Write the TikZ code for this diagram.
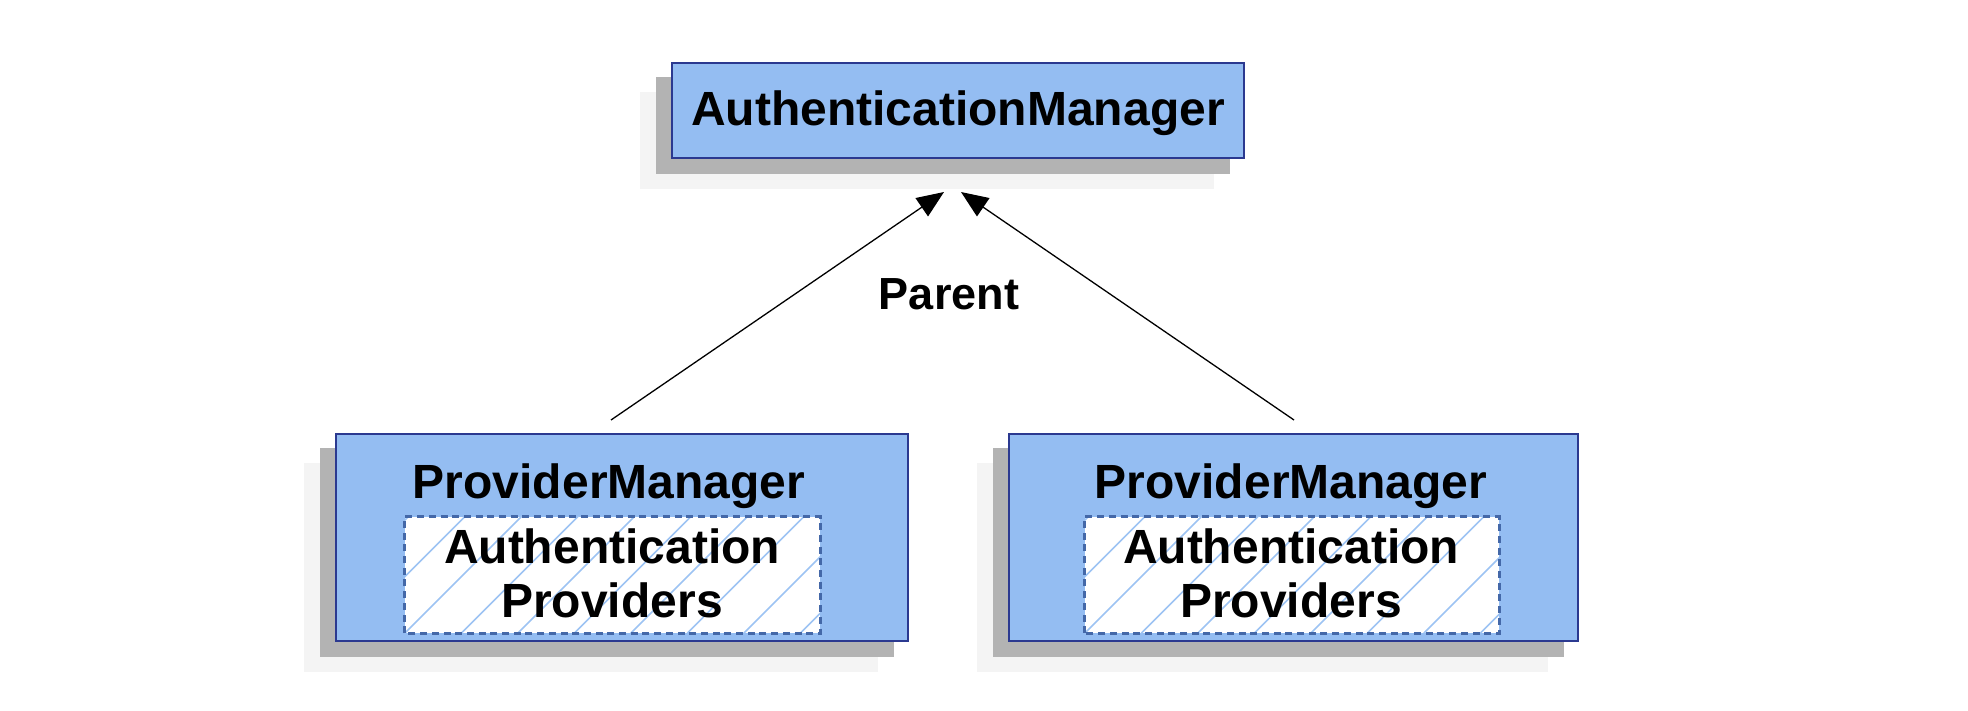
\documentclass[tikz,border=0pt]{standalone}
\usepackage{fontspec}
\setmainfont{Liberation Sans}
\usetikzlibrary{arrows.meta,calc,backgrounds}
\definecolor{boxfill}{HTML}{94BDF2}
\definecolor{boxline}{HTML}{2B3990}
\definecolor{darksh}{HTML}{B3B3B3}
\definecolor{lightsh}{HTML}{F4F4F4}
\definecolor{dashline}{HTML}{4468A8}
\definecolor{hatchc}{HTML}{9DC3F3}
\begin{document}
\begin{tikzpicture}[x=1pt,y=-1pt,
  box/.style={draw=boxline, fill=boxfill, line width=2pt, rectangle, inner sep=0pt},
  txt/.style={font=\fontsize{48}{56}\selectfont\bfseries, anchor=base, inner sep=0pt},
  innerbox/.style={fill=white, inner sep=0pt, rectangle, minimum width=415pt, minimum height=116pt},
  dashborder/.style={draw=dashline, line width=3.2pt, dash pattern=on 7pt off 4.7pt},
  hatchline/.style={draw=hatchc, line width=1.6pt},
  arr/.style={line width=1.3pt, -{Triangle[length=27pt,width=22pt]}},
  darkshadow/.style={fill=darksh},
  lightshadow/.style={fill=lightsh},
]
\useasboundingbox (0,0) rectangle (1968,710);

% boxes
\node[box, minimum width=572pt, minimum height=95pt] (am) at (958,110.5) {};
\node[box, minimum width=572pt, minimum height=207pt] (pm1) at (622,537.5) {};
\node[box, minimum width=569pt, minimum height=207pt] (pm2) at (1293.5,537.5) {};

% shadows
\begin{pgfonlayer}{background}
  \foreach \b in {am,pm1,pm2}{
    \fill[lightshadow] ($(\b.north west)+(-31,30)$) rectangle ($(\b.south east)+(-31,30)$);
    \fill[darkshadow] ($(\b.north west)+(-15,15)$) rectangle ($(\b.south east)+(-15,15)$);
  }
\end{pgfonlayer}

% inner hatched boxes
\node[innerbox] (in1) at (612.5,575) {};
\node[innerbox, minimum width=414pt] (in2) at (1292,575) {};
\foreach \b/\ph in {in1/0,in2/0}{
  \begin{scope}
    \clip (\b.south west) rectangle (\b.north east);
    \foreach \k in {-3,...,8}
      \draw[hatchline] ($(\b.south west)+(\ph+\k*56.5,0)$) -- ++(140,-140);
  \end{scope}
  \draw[dashborder] (\b.south west) rectangle (\b.north east);
}

% texts
\node[txt] (amt) at (958,125) {AuthenticationManager};
\node[txt] (pm1t) at (609,498) {ProviderManager};
\node[txt] (pm2t) at (1291,498) {ProviderManager};
\node[txt] (a1t) at (612,563) {Authentication};
\node[txt] (p1t) at (612,617) {Providers};
\node[txt] (a2t) at (1291,563) {Authentication};
\node[txt] (p2t) at (1291,617) {Providers};
\node[txt, font=\fontsize{45}{54}\selectfont\bfseries] (parent) at (949,309) {Parent};

% connectors
\coordinate (s1) at (611,420);
\coordinate (t1) at (944,192);
\coordinate (s2) at (1294,420);
\coordinate (t2) at (961,192);
\draw[arr] (s1) -- (t1);
\draw[arr] (s2) -- (t2);
\end{tikzpicture}
\end{document}
